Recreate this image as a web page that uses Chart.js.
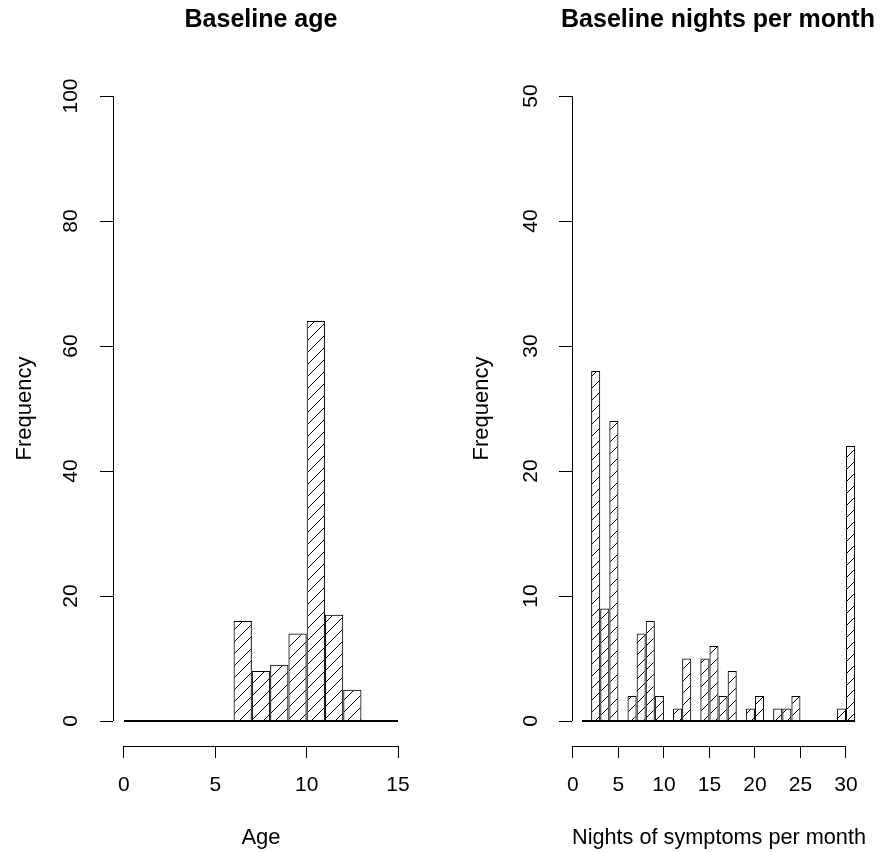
<!DOCTYPE html>
<html><head><meta charset="utf-8">
<script src="https://cdn.jsdelivr.net/npm/chart.js@4/dist/chart.umd.min.js"></script>
<style>
html,body{margin:0;padding:0;background:#fff;overflow:hidden;}
#wrap{position:relative;width:881px;height:852px;overflow:hidden;background:#fff;}
.box{position:absolute;top:0;height:852px;}
#b1{left:0;width:440px;}
#b2{left:440px;width:441px;}
canvas{display:block;}
.ttl{position:absolute;top:3px;height:30px;line-height:30px;font-family:'Liberation Sans',Arial,Helvetica,sans-serif;font-size:25px;font-weight:bold;color:#000;text-align:center;white-space:nowrap;}
#t1{left:0;width:522px;}
#t2{left:518px;width:400px;}
</style></head><body>
<div id="wrap">
  <div class="box" id="b1"><canvas id="c1" width="440" height="852"></canvas></div>
  <div class="box" id="b2"><canvas id="c2" width="441" height="852"></canvas></div>
  <div class="ttl" id="t1"></div>
  <div class="ttl" id="t2"></div>
</div>
<script>
// ---- data ----
const binWidth = 1;
const ageBinStarts = [0,1,2,3,4,5,6,7,8,9,10,11,12,13,14];
const ageCounts    = [0,0,0,0,0,0,16,8,9,14,64,17,5,0,0];
const ageXTicks = [0,5,10,15];
const ageYTicks = [0,20,40,60,80,100];

const nightsBinStarts = [1,2,3,4,5,6,7,8,9,10,11,12,13,14,15,16,17,18,19,20,21,22,23,24,25,26,27,28,29,30];
const nightsCounts    = [0,28,9,24,0,2,7,8,2,0,1,5,0,5,6,2,4,0,1,2,0,1,1,2,0,0,0,0,1,22];
const nightsXTicks = [0,5,10,15,20,25,30];
const nightsYTicks = [0,10,20,30,40,50];

const titles = ['Baseline age', 'Baseline nights per month'];
const xTitles = ['Age', 'Nights of symptoms per month'];
const yTitle = 'Frequency';

document.getElementById('t1').textContent = titles[0];
document.getElementById('t2').textContent = titles[1];

// ---- styling ----
const FONT = "'Liberation Sans', Arial, Helvetica, sans-serif";
const FS = 21;
const FT = 22;

function hatch(sp, lw) {
  const c = document.createElement('canvas');
  c.width = sp; c.height = sp;
  const g = c.getContext('2d');
  g.strokeStyle = '#000'; g.lineWidth = lw;
  g.beginPath();
  g.moveTo(-2, sp + 2); g.lineTo(sp + 2, -2);
  g.moveTo(-2, 2); g.lineTo(2, -2);
  g.moveTo(sp - 2, sp + 2); g.lineTo(sp + 2, sp - 2);
  g.stroke();
  return g.createPattern(c, 'repeat');
}
const pattern = hatch(12, 1);

const rAxes = {
  id: 'rAxes',
  afterDraw(chart) {
    const ctx = chart.ctx, a = chart.chartArea;
    const xs = chart.scales.x, ys = chart.scales.y;
    ctx.save();
    ctx.strokeStyle = '#000'; ctx.lineWidth = 1;
    ctx.beginPath();
    const yb = Math.round(a.bottom - 0.5) + 0.5;
    ctx.moveTo(xs.getPixelForValue(xs.ticks[0].value), yb);
    ctx.lineTo(xs.getPixelForValue(xs.ticks[xs.ticks.length - 1].value), yb);
    const xl = Math.round(a.left - 0.5) + 0.5;
    ctx.moveTo(xl, ys.getPixelForValue(ys.ticks[0].value));
    ctx.lineTo(xl, ys.getPixelForValue(ys.ticks[ys.ticks.length - 1].value));
    ctx.stroke();
    ctx.restore();
  }
};

function makeChart(id, o) {
  return new Chart(document.getElementById(id), {
    type: 'bar',
    data: {
      datasets: [
        {
          type: 'bar',
          data: o.starts.map((s, i) => ({ x: s + binWidth / 2, y: o.counts[i] })),
          backgroundColor: pattern,
          borderColor: '#000',
          borderWidth: 1,
          borderSkipped: 'start',
          barPercentage: 1,
          categoryPercentage: 1,
          inflateAmount: 0,
          order: 2
        },
        {
          type: 'line',
          data: [{ x: o.starts[0], y: 0 }, { x: o.starts[o.starts.length - 1] + binWidth, y: 0 }],
          borderColor: '#000',
          borderWidth: 2,
          pointRadius: 0,
          order: 1
        }
      ]
    },
    options: {
      responsive: false,
      animation: false,
      devicePixelRatio: 1,
      layout: { padding: { left: 0, right: o.padRight, top: 71, bottom: 0 } },
      plugins: {
        legend: { display: false },
        tooltip: { enabled: false },
        title: { display: false }
      },
      scales: {
        x: {
          type: 'linear', min: o.xmin, max: o.xmax, offset: false,
          afterBuildTicks: s => { s.ticks = o.xTicks.map(v => ({ value: v })); },
          afterFit: s => { s.height = 106; },
          grid: { display: true, drawOnChartArea: false, drawTicks: true, tickLength: 12, color: '#000', lineWidth: 1, offset: false },
          border: { display: false },
          ticks: { autoSkip: false, minRotation: 0, maxRotation: 0, padding: 15, color: '#000', font: { family: FONT, size: FS } },
          title: { display: true, text: o.xTitle, color: '#000', font: { family: FONT, size: FT }, padding: { top: 0, bottom: 1 } }
        },
        y: {
          type: 'linear', min: o.ymin, max: o.ymax,
          afterBuildTicks: s => { s.ticks = o.yTicks.map(v => ({ value: v })); },
          afterFit: s => { s.width = o.yw; },
          grid: { display: true, drawOnChartArea: false, drawTicks: true, tickLength: 13, color: '#000', lineWidth: 1 },
          border: { display: false },
          ticks: { autoSkip: false, minRotation: 90, maxRotation: 90, crossAlign: 'center', padding: o.yPad, color: '#000', font: { family: FONT, size: FS } },
          title: { display: true, text: yTitle, color: '#000', font: { family: FONT, size: FT }, padding: { top: o.yTitlePad, bottom: 0 } }
        }
      }
    },
    plugins: [rAxes]
  });
}

makeChart('c1', {
  starts: ageBinStarts, counts: ageCounts, xTicks: ageXTicks, yTicks: ageYTicks,
  xmin: -0.6, xmax: 15.6, ymin: -4, ymax: 104,
  xTitle: xTitles[0], yw: 113, padRight: 31, yPad: 11, yTitlePad: 12
});
makeChart('c2', {
  starts: nightsBinStarts, counts: nightsCounts, xTicks: nightsXTicks, yTicks: nightsYTicks,
  xmin: -0.1, xmax: 32.2, ymin: -2, ymax: 52,
  xTitle: xTitles[1], yw: 132, padRight: 15, yPad: 16, yTitlePad: 29
});
</script>
</body></html>
